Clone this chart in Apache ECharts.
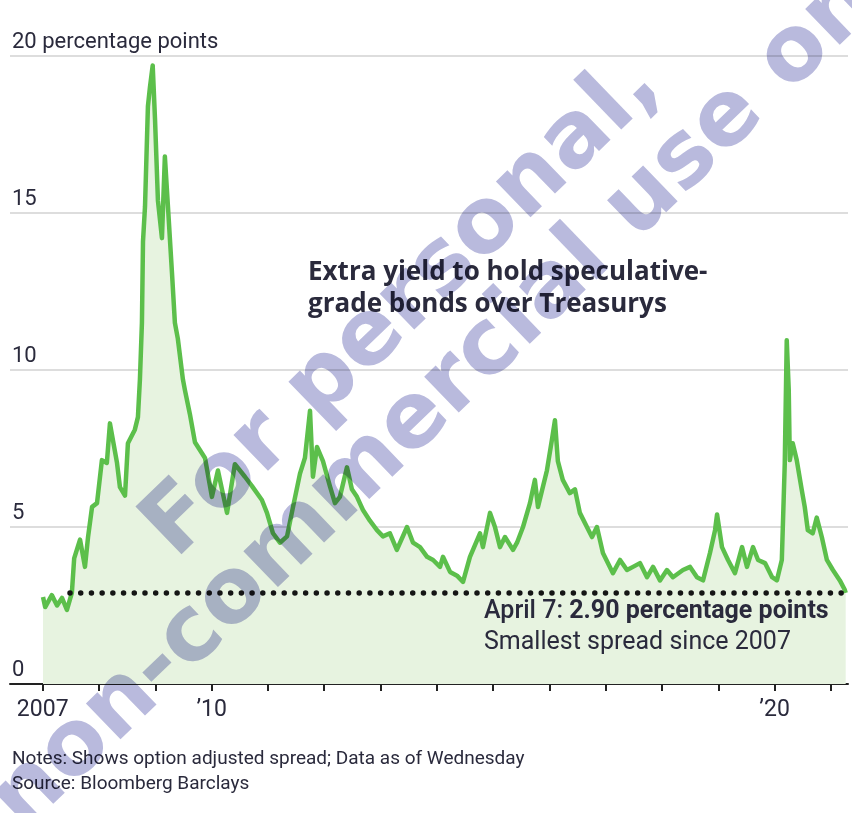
<!DOCTYPE html>
<html>
<head>
<meta charset="utf-8">
<script src="https://cdn.jsdelivr.net/npm/echarts@6/dist/echarts.min.js"></script>
<style>
  html, body { margin: 0; padding: 0; background: #ffffff; }
  #wrap { position: relative; width: 852px; height: 813px; }
  #chart, #mark { position: absolute; left: 0; top: 0; width: 852px; height: 813px; }
  #mark { mix-blend-mode: multiply; pointer-events: none; }
</style>
</head>
<body>
<div id="wrap">
  <div id="chart"></div>
  <div id="mark"></div>
</div>
<script>
// High-yield option-adjusted spread over Treasurys, percentage points
const dates = [
  '2007-01-03','2007-01-17','2007-03-01','2007-04-04','2007-05-06','2007-06-07','2007-07-09','2007-07-24',
  '2007-08-31','2007-10-02','2007-10-22','2007-11-17','2007-12-19','2008-01-20','2008-02-21','2008-03-12',
  '2008-04-27','2008-05-16','2008-06-18','2008-07-07','2008-08-21','2008-09-10','2008-09-23','2008-10-06',
  '2008-10-13','2008-10-26','2008-11-14','2008-11-27','2008-12-15','2008-12-30','2009-01-18','2009-02-13',
  '2009-03-04','2009-03-24','2009-04-19','2009-05-08','2009-05-27','2009-06-29','2009-07-12','2009-08-13',
  '2009-09-15','2009-10-17','2009-11-19','2010-01-03','2010-02-11','2010-04-11','2010-06-01','2010-08-05',
  '2010-09-20','2010-11-23','2010-12-26','2011-02-03','2011-03-20','2011-05-05','2011-06-13','2011-07-28',
  '2011-08-29','2011-10-01','2011-10-20','2011-11-15','2011-12-24','2012-02-07','2012-03-11','2012-04-12',
  '2012-05-28','2012-06-29','2012-08-01','2012-09-09','2012-10-24','2012-12-09','2013-01-17','2013-03-03',
  '2013-04-17','2013-06-22','2013-07-31','2013-09-14','2013-10-30','2013-12-08','2014-01-22','2014-02-10',
  '2014-03-28','2014-05-12','2014-06-20','2014-08-04','2014-10-08','2014-10-27','2014-12-12','2015-01-13',
  '2015-02-15','2015-03-19','2015-05-10','2015-06-05','2015-07-14','2015-08-28','2015-09-29','2015-10-19',
  '2015-12-16','2016-01-17','2016-02-06','2016-02-25','2016-03-28','2016-05-13','2016-06-15','2016-07-17',
  '2016-09-01','2016-10-04','2016-11-05','2016-12-14','2017-02-17','2017-04-04','2017-05-19','2017-06-27',
  '2017-08-11','2017-09-26','2017-11-04','2017-12-19','2018-02-02','2018-03-13','2018-05-17','2018-07-02',
  '2018-08-16','2018-09-24','2018-11-08','2018-12-11','2018-12-24','2019-01-25','2019-03-05','2019-04-19',
  '2019-06-04','2019-07-06','2019-08-14','2019-09-16','2019-10-31','2019-12-16','2020-01-16','2020-02-17',
  '2020-03-07','2020-03-20','2020-04-02','2020-04-09','2020-04-28','2020-05-24','2020-06-25','2020-07-15',
  '2020-08-04','2020-09-05','2020-10-01','2020-11-03','2020-12-06','2021-01-14','2021-02-28','2021-04-01',
  '2021-04-07'
];
const spread = [
  2.77, 2.45, 2.83, 2.50, 2.74, 2.36, 2.90, 4.00,
  4.60, 3.73, 4.68, 5.64, 5.76, 7.13, 7.04, 8.30,
  7.04, 6.27, 6.00, 7.67, 8.10, 8.50, 9.70, 11.5,
  14.1, 15.2, 18.4, 19.0, 19.7, 18.0, 15.4, 14.2,
  16.8, 15.2, 13.1, 11.5, 11.0, 9.70, 9.36, 8.60,
  7.70, 7.45, 7.20, 5.96, 6.80, 5.45, 7.00, 6.60,
  6.30, 5.86, 5.45, 4.80, 4.50, 4.70, 5.64, 6.70,
  7.20, 8.70, 6.60, 7.55, 7.10, 6.30, 5.76, 5.96,
  6.90, 6.20, 5.96, 5.54, 5.20, 4.90, 4.70, 4.80,
  4.27, 5.00, 4.50, 4.36, 4.05, 3.95, 3.73, 4.05,
  3.57, 3.45, 3.25, 4.05, 4.80, 4.36, 5.45, 5.00,
  4.36, 4.68, 4.27, 4.50, 5.00, 5.76, 6.50, 5.64,
  6.80, 7.77, 8.40, 7.10, 6.50, 6.08, 6.20, 5.45,
  5.00, 4.68, 5.00, 4.17, 3.53, 3.95, 3.63, 3.73,
  3.85, 3.40, 3.73, 3.30, 3.63, 3.40, 3.63, 3.73,
  3.40, 3.30, 4.17, 4.90, 5.40, 4.36, 3.95, 3.53,
  4.36, 3.73, 4.36, 3.95, 3.85, 3.40, 3.30, 3.95,
  7.00, 10.95, 9.36, 7.13, 7.67, 7.13, 6.20, 5.64,
  4.90, 4.80, 5.30, 4.68, 3.95, 3.63, 3.30, 3.00,
  2.90
];

// Reference level: latest reading, drawn across from its first match in 2007
const floorDates = ['2007-06-27', '2021-03-24'];
const floorValue = 2.90;

const tickYears = [2007, 2008, 2009, 2010, 2011, 2012, 2013, 2014, 2015, 2016, 2017, 2018, 2019, 2020, 2021];
const labelYears = [2007, 2010, 2020];
const yTicks = [0, 5, 10, 15, 20];

const titleLines = ['Extra yield to hold speculative-', 'grade bonds over Treasurys'];
const noteLines = ['Notes: Shows option adjusted spread; Data as of Wednesday', 'Source: Bloomberg Barclays'];
const watermarkParts = ['For personal,', 'non-commercial', 'use only'];

function toYear(s) {
  const d = Date.parse(s + 'T00:00:00Z');
  const y = Number(s.slice(0, 4));
  const a = Date.UTC(y, 0, 1), b = Date.UTC(y + 1, 0, 1);
  return y + (d - a) / (b - a);
}

const TEXT = '#2a2a3c';
const FONT = 'Roboto, "Noto Sans", sans-serif';

const chart = echarts.init(document.getElementById('chart'), null, { renderer: 'canvas' });

chart.setOption({
  animation: false,
  backgroundColor: '#ffffff',
  grid: { left: 10, right: 4, top: 56, bottom: 129, containLabel: false },
  xAxis: {
    type: 'value',
    min: 2006.419,
    max: 2021.304,
    axisLine: { show: true, lineStyle: { color: '#222222', width: 2 } },
    axisTick: { show: true, customValues: tickYears, length: 7, lineStyle: { color: '#222222', width: 2 } },
    axisLabel: {
      customValues: labelYears,
      margin: 15,
      color: TEXT,
      fontFamily: FONT,
      fontSize: 23,
      formatter: v => (v === 2007 ? '2007' : '\u2019' + String(v).slice(2))
    },
    splitLine: { show: false }
  },
  yAxis: {
    type: 'value',
    min: 0,
    max: 20,
    interval: 5,
    axisLine: { show: false },
    axisTick: { show: false },
    axisLabel: {
      inside: true,
      margin: 2,
      verticalAlign: 'bottom',
      padding: [0, 0, 3, 0],
      lineHeight: 22,
      color: TEXT,
      fontFamily: FONT,
      fontSize: 22,
      formatter: v => (v === yTicks[yTicks.length - 1] ? v + ' percentage points' : String(v))
    },
    splitLine: { show: true, lineStyle: { color: '#d2d2d2', width: 1.5 } }
  },
  series: [
    {
      type: 'line',
      data: dates.map((d, i) => [toYear(d), spread[i]]),
      symbol: 'none',
      smooth: false,
      lineStyle: { color: '#5cbf4b', width: 4.5, join: 'round' },
      areaStyle: { color: '#e7f3e0', opacity: 1 },
      z: 2
    },
    {
      type: 'line',
      data: floorDates.map(d => [toYear(d), floorValue]),
      symbol: 'none',
      lineStyle: { color: '#151515', width: 5.5, type: [0.01, 10.7], cap: 'round' },
      z: 3
    }
  ],
  graphic: [
    {
      type: 'text', left: 308, top: 257, z: 10,
      style: {
        text: titleLines.join('\n'),
        font: 'bold 26px "Open Sans", Roboto, sans-serif',
        lineHeight: 32,
        fill: TEXT
      }
    },
    {
      type: 'text', left: 484, top: 599, z: 10,
      style: {
        text: '{a|April 7: }{b|' + floorValue.toFixed(2) + ' percentage points}\n{c|Smallest spread since 2007}',
        rich: {
          a: { font: '500 25px ' + FONT, fill: TEXT, lineHeight: 31 },
          b: { font: 'bold 25px ' + FONT, fill: TEXT, lineHeight: 31 },
          c: { font: '25px ' + FONT, fill: TEXT, lineHeight: 31 }
        }
      }
    },
    {
      type: 'text', left: 12, top: 747, z: 10,
      style: {
        text: noteLines.join('\n'),
        font: '19px ' + FONT,
        lineHeight: 25,
        fill: TEXT
      }
    }
  ]
});

// Diagonal usage notice, multiplied over the chart
const ANGLE = 44 * Math.PI / 180;
const MARK_FONT = 'bold 91px "DejaVu Sans"';
const MARK_FILL = '#b9badd';
function markText(x, y, text, align) {
  return {
    type: 'text', x: x, y: y, rotation: ANGLE, silent: true,
    style: { text: text, font: MARK_FONT, textAlign: align, textVerticalAlign: 'middle', fill: MARK_FILL }
  };
}
const mark = echarts.init(document.getElementById('mark'), null, { renderer: 'canvas' });
mark.setOption({
  animation: false,
  backgroundColor: 'transparent',
  graphic: [
    markText(159, 543, watermarkParts[0], 'left'),
    markText(597, 246, watermarkParts[1], 'right'),
    markText(620, 224, watermarkParts[2], 'left')
  ]
});
</script>
</body>
</html>
